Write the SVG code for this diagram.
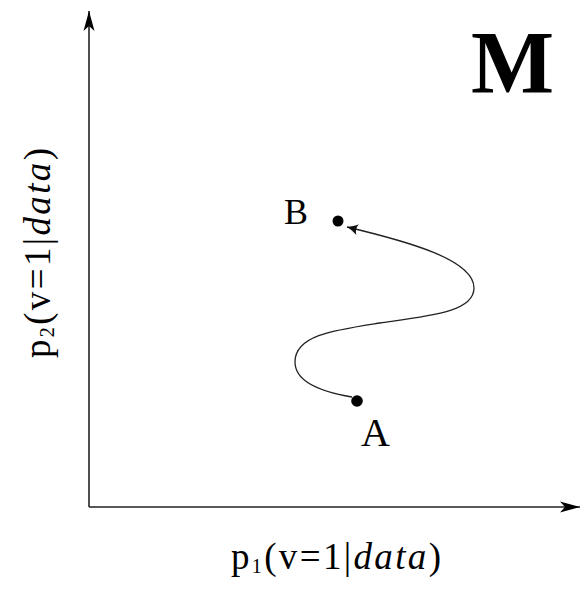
<svg xmlns="http://www.w3.org/2000/svg" width="582" height="595" viewBox="0 0 582 595">
<style>
.t{font-family:"Liberation Serif","DejaVu Serif",serif;fill:#000}
.axis{stroke:#222;stroke-width:1.6;fill:none}
.curve{stroke:#222;stroke-width:1.3;fill:none}
</style>
<defs>
<marker id="ah" markerUnits="userSpaceOnUse" markerWidth="24" markerHeight="14" viewBox="-20 -7 24 14" refX="0" refY="0" orient="auto">
<path d="M0,0 L-20,-5.5 L-15,0 L-20,5.5 Z" fill="#000"/>
</marker>
<marker id="sh" markerUnits="userSpaceOnUse" markerWidth="14" markerHeight="12" viewBox="-12 -6 14 12" refX="0" refY="0" orient="auto">
<path d="M0,0 C-4,-1.5 -8,-3.5 -11,-5.5 C-9,-2.5 -9,2.5 -11,5.5 C-8,3.5 -4,1.5 0,0 Z" fill="#111"/>
</marker>
</defs>
<g id="connectors">
<path id="y-axis" class="axis" d="M89,507 L89,11" marker-end="url(#ah)"/>
<path id="x-axis" class="axis" d="M89,507 L580,507" marker-end="url(#ah)"/>
<path id="path-AB" class="curve" d="M352,397 C322,392 295,382 295,362 C295,335 335,330 380,323 C430,316 474,312 474,288 C474,260 410,242 347,227" marker-end="url(#sh)"/>
</g>
<g id="pointA">
<circle cx="357" cy="401" r="5.8" fill="#000"/>
<text class="t" x="361" y="446" font-size="40">A</text>
</g>
<g id="pointB">
<circle cx="338" cy="221" r="5.5" fill="#000"/>
<text class="t" x="284" y="224" font-size="36">B</text>
</g>
<g id="labelM">
<text class="t" x="471" y="92" font-size="88" font-weight="bold">M</text>
</g>
<g id="xlabel">
<text class="t" x="231" y="569" font-size="37" textLength="210" lengthAdjust="spacing">p<tspan font-size="20" dy="4">1</tspan><tspan dy="-4">(v=1|</tspan><tspan font-style="italic">data</tspan>)</text>
</g>
<g id="ylabel">
<text class="t" transform="translate(50,358) rotate(-90)" x="0" y="0" font-size="37" textLength="210" lengthAdjust="spacing">p<tspan font-size="20" dy="4">2</tspan><tspan dy="-4">(v=1|</tspan><tspan font-style="italic">data</tspan>)</text>
</g>
</svg>
